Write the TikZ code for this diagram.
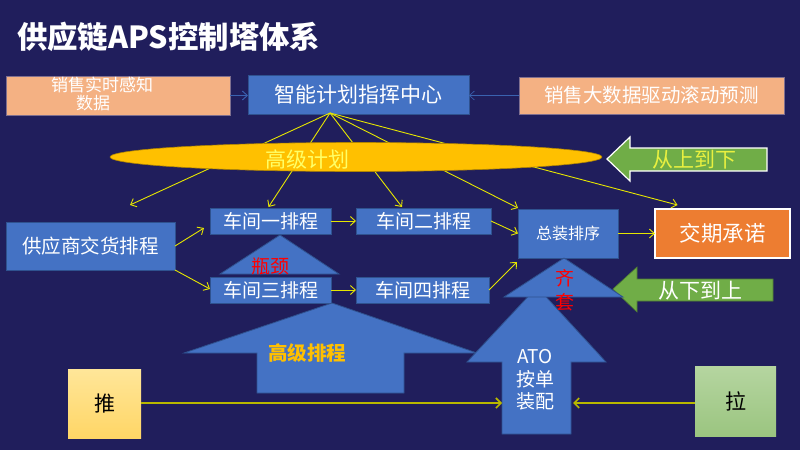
\documentclass[tikz,border=0pt]{standalone}
\usepackage{fontspec}
\setmainfont{Noto Sans CJK SC}
\usetikzlibrary{arrows.meta,calc}
\definecolor{bg}{HTML}{201E5C}
\definecolor{boxblue}{HTML}{4472C4}
\definecolor{boxline}{HTML}{2F528F}
\definecolor{salmon}{HTML}{F4B183}
\definecolor{salline}{HTML}{7F6F8F}
\definecolor{orangeb}{HTML}{ED7D31}
\definecolor{greenb}{HTML}{70AD47}
\definecolor{greenline}{HTML}{507E32}
\definecolor{gold}{HTML}{FFC000}
\definecolor{ylw}{HTML}{E6E600}
\definecolor{olivel}{HTML}{B8B800}
\definecolor{lightylw}{HTML}{FFFF66}
\definecolor{greentext}{HTML}{E8F040}
\definecolor{arrblue}{HTML}{3A62B0}
\newcommand\fsz[1]{\fontsize{#1pt}{#1pt}\selectfont}
\tikzset{
  bbox/.style={draw=boxline, fill=boxblue, line width=0.8pt, text=white, inner sep=0pt, outer sep=0pt},
  salbox/.style={draw=salline, fill=salmon, line width=0.6pt, inner sep=0pt, outer sep=0pt},
  yln/.style={draw=ylw, line width=0.9pt, -{Straight Barb[length=5pt,width=9pt]}},
  bln/.style={draw=arrblue, line width=0.9pt, -{Straight Barb[length=5pt,width=9pt]}},
  pln/.style={draw=olivel, line width=1.6pt, -{Straight Barb[length=5pt,width=10pt]}},
  shp/.style={draw=boxline, fill=boxblue, line width=0.8pt},
  lbl/.style={inner sep=0pt, outer sep=0pt},
}
\begin{document}
\begin{tikzpicture}[x=1pt,y=-1pt]
\fill[bg] (0,0) rectangle (800,450);
\useasboundingbox (0,0) rectangle (800,450);
% title
\node[lbl, anchor=west, text=white, font=\fsz{30.4}\bfseries] (title) at (17,37) {供应链APS控制塔体系};
% top row
\node[salbox, minimum width=224, minimum height=39] (salesL) at (118,95.5) {};
\node[lbl, text=white, align=center, font=\fontsize{17pt}{18pt}\selectfont] (salesLt) at (102,94) {销售实时感知\\数据\hspace*{18pt}};
\node[bbox, minimum width=221, minimum height=39, font=\fsz{21}] (cmd) at (358.5,94.5) {智能计划指挥中心};
\node[salbox, minimum width=265, minimum height=37, text=white, font=\fsz{19.5}] (salesR) at (651.5,95.5) {销售大数据驱动滚动预测};
\draw[bln] (salesL.east) -- (salesL.east -| cmd.west);
\draw[bln, line width=0.6pt] (salesR.west) -- (salesR.west -| cmd.east);
% second row nodes
\node[bbox, minimum width=169, minimum height=48, font=\fsz{19.5}] (sup) at (90.5,246) {供应商交货排程};
\node[bbox, minimum width=121, minimum height=26, font=\fsz{19}] (ws1) at (270.5,221) {车间一排程};
\node[bbox, minimum width=121, minimum height=26, font=\fsz{19}] (ws3) at (270.5,290) {车间三排程};
\node[bbox, minimum width=135, minimum height=26, font=\fsz{19}] (ws2) at (423.5,221) {车间二排程};
\node[bbox, minimum width=133, minimum height=26, font=\fsz{19}] (ws4) at (422.5,290) {车间四排程};
\node[bbox, minimum width=100, minimum height=49, font=\fsz{16}] (final) at (568,233.5) {总装排序};
\node[draw=white, fill=orangeb, line width=1.2pt, minimum width=135, minimum height=49, inner sep=0pt, outer sep=0pt, text=white, font=\fsz{21.5}] (deliv) at (722.5,233.5) {交期承诺};
% hub lines
\coordinate (hub) at ($(cmd.south west)+(82,-1)$);
\coordinate (t0) at (130,205);
\draw[yln] (hub) -- (t0);
\draw[yln] (hub) -- ($(ws1.north)+(-2,-1)$);
\draw[yln] (hub) -- ($(ws2.north west)+(46,-1)$);
\draw[yln] (hub) -- ($(final.north west)+(0,-1)$);
\draw[yln] (hub) -- ($(deliv.north)+(-45,-4)$);
% ellipse
\draw[draw=gold!70!black, fill=gold, line width=0.6pt] (356,157) ellipse [x radius=246, y radius=14.5];
\node[lbl, text=lightylw, font=\fsz{21}] (hp) at (307,160) {高级计划};
% green arrows
\draw[draw=white, line width=1.2pt, fill=greenb] (607,159) -- (630,137) -- (630,148) -- (767,148) -- (767,171) -- (630,171) -- (630,181) -- cycle;
\node[lbl, text=greentext, font=\fsz{21}] (down) at (694,160) {从上到下};
\draw[draw=greenline, line width=0.6pt, fill=greenb] (613,289) -- (637,267) -- (637,279) -- (773,279) -- (773,301) -- (637,301) -- (637,312) -- cycle;
\node[lbl, text=white, font=\fsz{21}] (up) at (700,291) {从下到上};
% row arrows
\draw[yln] (sup.east) -- ($(ws1.west)+(-6,7)$);
\draw[yln] (sup.south east) -- ($(ws3.west)+(0,-1)$);
\draw[yln] (ws1.east) -- (ws2.west);
\draw[yln] (ws3.east) -- (ws4.west);
\draw[yln] (ws2.east) -- (final.west);
\draw[yln] (ws4.east) -- ($(final.south west)+(-1,4)$);
\draw[yln] (final.east) -- (deliv.west);
% bottleneck triangle
\draw[shp] (280,235) -- (339,274) -- (220,274) -- cycle;
\node[lbl, text=red, font=\fsz{19}] (bn) at (270,266) {瓶颈};
% big arrow advanced scheduling
\draw[shp] (332,303) -- (477,353) -- (404,353) -- (404,393) -- (257,393) -- (257,353) -- (184,353) -- cycle;
\node[lbl, text=gold, font=\fsz{19.5}\bfseries] (as) at (307,353) {高级排程};
% ATO arrow
\draw[shp] (537,287) -- (606,362) -- (571,362) -- (571,434) -- (502,434) -- (502,362) -- (467,362) -- cycle;
\coordinate (atoL) at (502,403);
\coordinate (atoR) at (573,403);
\node[lbl, text=white, align=center, font=\fontsize{19pt}{22.5pt}\selectfont] (ato) at (535,380) {ATO\\按单\\装配};
% kit triangle
\draw[shp] (564,258) -- (623,297) -- (504,297) -- cycle;
\node[lbl, text=red, font=\fsz{19}] (kit1) at (565,278) {齐};
\node[lbl, text=red, font=\fsz{19}] (kit2) at (565,302) {套};
% push / pull
\node[draw=none, top color={rgb,255:red,255;green,230;blue,153}, bottom color={rgb,255:red,255;green,214;blue,102}, minimum width=73, minimum height=69, inner sep=0pt, outer sep=0pt, font=\fsz{21}] (push) at (104.5,403.5) {推};
\node[draw=none, top color={rgb,255:red,181;green,213;blue,160}, bottom color={rgb,255:red,155;green,197;blue,128}, minimum width=81, minimum height=70, inner sep=0pt, outer sep=0pt, font=\fsz{21}] (pull) at (735.5,401) {拉};
\draw[pln] (push.east |- atoL) -- (atoL);
\draw[pln] (pull.west |- atoR) -- (atoR);
\end{tikzpicture}
\end{document}
